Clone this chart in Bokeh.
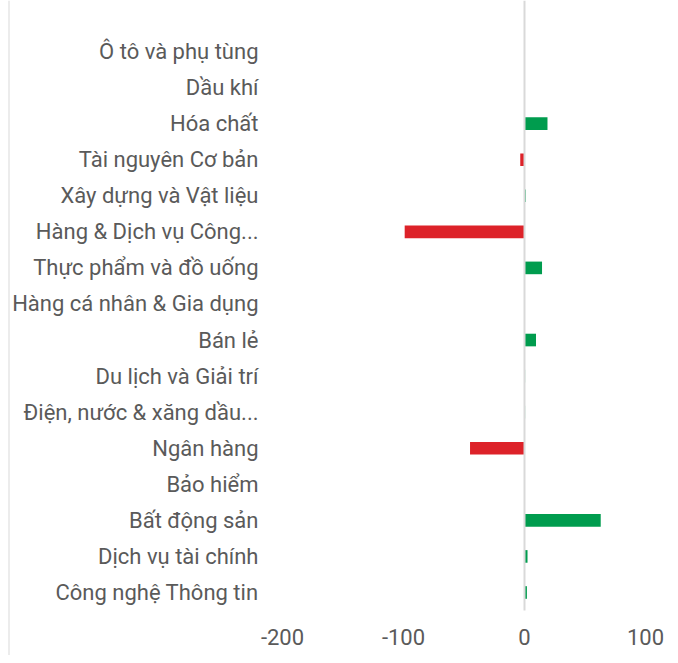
from bokeh.plotting import figure
from bokeh.models import Range1d, LinearAxis, FixedTicker, Span
from bokeh.embed import file_html
from bokeh.resources import INLINE

categories = [
    "Ô tô và phụ tùng",
    "Dầu khí",
    "Hóa chất",
    "Tài nguyên Cơ bản",
    "Xây dựng và Vật liệu",
    "Hàng & Dịch vụ Công...",
    "Thực phẩm và đồ uống",
    "Hàng cá nhân & Gia dụng",
    "Bán lẻ",
    "Du lịch và Giải trí",
    "Điện, nước & xăng dầu...",
    "Ngân hàng",
    "Bảo hiểm",
    "Bất động sản",
    "Dịch vụ tài chính",
    "Công nghệ Thông tin",
]
values = [0, 0, 19, -3.5, 1, -99, 14.5, 0, 9.5, 0.5, 0.5, -45, 0, 63, 2.5, 2]
x_ticks = [-200, -100, 0, 100]
x_tick_labels = ["-200", "-100", "0", "100"]

GREEN = "#009C4E"
RED = "#DD2229"
GRAY = "#D9D9D9"
TEXT = "#5A5A5A"
FONT = "Roboto"
FS = "22px"

n = len(categories)
ypos = [n - 1 - i for i in range(n)]
colors = [GREEN if v >= 0 else RED for v in values]

W, H = 670, 655
x_start, x_end = -426.4, 120.66
y_start, y_end = -1.747, 16.414

p = figure(width=W, height=H, output_backend="svg", toolbar_location=None,
           x_range=Range1d(x_start, x_end), y_range=Range1d(y_start, y_end),
           x_axis_location=None, y_axis_location=None,
           min_border=0, min_border_left=8, min_border_right=0,
           min_border_top=0, min_border_bottom=0)
p.outline_line_color = None
p.xgrid.visible = False
p.ygrid.visible = False
p.background_fill_color = "white"
p.border_fill_color = "white"

p.hbar(y=ypos, left=0, right=values, height=0.35, color=colors, line_color=None)

# category axis (inside frame)
yax = LinearAxis(fixed_location=-213.2, ticker=FixedTicker(ticks=ypos),
                 major_label_overrides={y: c for y, c in zip(ypos, categories)})
yax.axis_line_color = None
yax.major_tick_line_color = None
yax.minor_tick_line_color = None
yax.major_tick_out = 0
yax.major_label_standoff = 8
yax.major_label_text_font = FONT
yax.major_label_text_font_size = FS
yax.major_label_text_color = TEXT
p.add_layout(yax, "left")

# zero line axis
zax = LinearAxis(fixed_location=0, ticker=FixedTicker(ticks=[]), bounds=(-0.5, y_end))
zax.axis_line_color = GRAY
zax.axis_line_width = 2
zax.major_tick_line_color = None
zax.minor_tick_line_color = None
zax.major_label_text_alpha = 0
p.add_layout(zax, "left")

# value axis
xax = LinearAxis(fixed_location=-0.5, ticker=FixedTicker(ticks=x_ticks),
                 major_label_overrides={t: s for t, s in zip(x_ticks, x_tick_labels)})
xax.axis_line_color = None
xax.major_tick_line_color = None
xax.minor_tick_line_color = None
xax.major_tick_out = 0
xax.major_label_standoff = 18
xax.major_label_text_font = FONT
xax.major_label_text_font_size = FS
xax.major_label_text_color = TEXT
p.add_layout(xax, "below")

# left frame border
p.add_layout(Span(location=x_start, dimension="height", line_color=GRAY, line_width=2))

open("out.html", "w").write(file_html(p, INLINE))
